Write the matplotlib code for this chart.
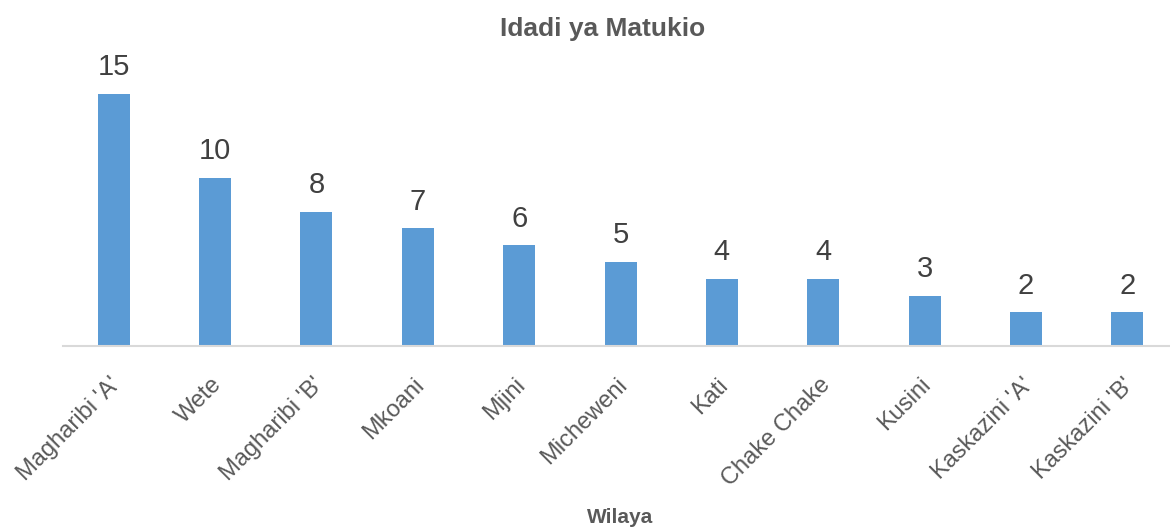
import matplotlib.pyplot as plt
import matplotlib.transforms as mtransforms

WILAYA = ["Magharibi 'A'", "Wete", "Magharibi 'B'", "Mkoani", "Mjini", "Micheweni",
          "Kati", "Chake Chake", "Kusini", "Kaskazini 'A'", "Kaskazini 'B'"]
MATUKIO = [15, 10, 8, 7, 6, 5, 4, 4, 3, 2, 2]

BAR_COLOR = "#5B9BD5"
FONT = ["Liberation Sans Narrow", "Liberation Sans", "DejaVu Sans"]

plt.rcParams["font.family"] = FONT

fig = plt.figure(figsize=(11.7, 5.29), dpi=100)
ax = fig.add_axes([63 / 1170, 0.346, 1 - 63 / 1170, 0.54])

x = list(range(len(WILAYA)))
bars = ax.bar(x, MATUKIO, width=0.315, color=BAR_COLOR)

for b, v in zip(bars, MATUKIO):
    ax.annotate(str(v), (b.get_x() + b.get_width() / 2, v),
                xytext=(0, 9), textcoords="offset points",
                ha="center", va="bottom", fontsize=21, color="#404040")

ax.set_xlim(-0.5, 10.42)
ax.set_ylim(0, 17)
ax.set_yticks([])
for s in ["top", "right", "left"]:
    ax.spines[s].set_visible(False)
ax.spines["bottom"].set_color("#D9D9D9")
ax.spines["bottom"].set_linewidth(1.5)

ax.set_xticks(x)
ax.set_xticklabels(WILAYA, rotation=45, ha="right", fontsize=17, color="#595959")
ax.tick_params(axis="x", length=0, pad=20)
offset = mtransforms.ScaledTranslation(11 / 100, 0, fig.dpi_scale_trans)
for lbl in ax.get_xticklabels():
    lbl.set_transform(lbl.get_transform() + offset)

fig.text(0.515, 0.945, "Idadi ya Matukio", ha="center", va="center",
         fontsize=19, fontweight="bold", color="#595959")
fig.text(0.53, 0.022, "Wilaya", ha="center", va="center",
         fontsize=15, fontweight="bold", color="#595959")

fig.savefig("out.png", dpi=100)
